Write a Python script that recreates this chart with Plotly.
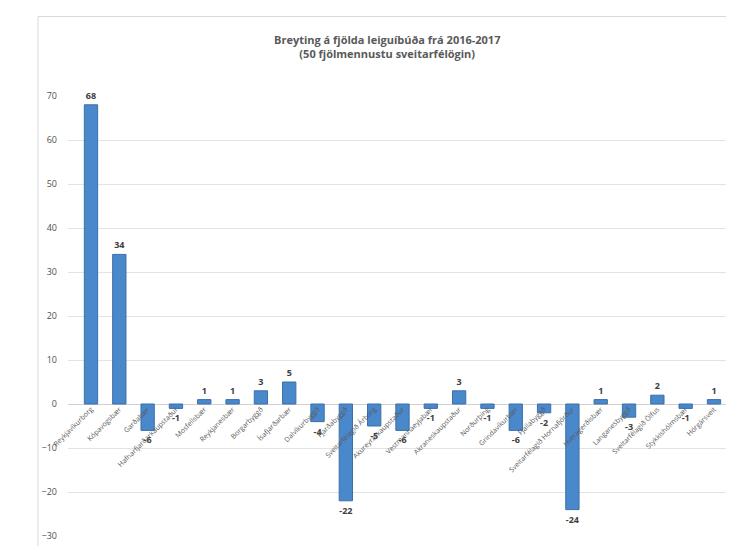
import plotly.graph_objects as go

categories = [
    "Reykjavíkurborg", "Kópavogsbær", "Garðabær", "Hafnarfjarðarkaupstaður",
    "Mosfellsbær", "Reykjanesbær", "Borgarbyggð", "Ísafjarðarbær",
    "Dalvíkurbyggð", "Fjarðabyggð", "Sveitarfélagið Árborg", "Akureyrarkaupstaður",
    "Vestmannaeyjabær", "Akraneskaupstaður", "Norðurþing", "Grindavíkurbær",
    "Fjallabyggð", "Sveitarfélagið Hornafjörður", "Hveragerðisbær", "Langanesbyggð",
    "Sveitarfélagið Ölfus", "Stykkishólmsbær", "Hörgársveit",
]
values = [68, 34, -6, -1, 1, 1, 3, 5, -4, -22, -5, -6, -1, 3, -1, -6, -2, -24, 1, -3, 2, -1, 1]
y_ticks = [-30, -20, -10, 0, 10, 20, 30, 40, 50, 60, 70]
title_text = "Breyting á fjölda leiguíbúða frá 2016-2017<br>(50 fjölmennustu sveitarfélögin)"

# pixel geometry helpers
W, H = 734, 546
L, R, T, B = 60, 721, 88, 531
pw, ph = R - L, B - T

def px(x):
    return (x - L) / pw

def py(y):
    return (B - y) / ph

fig = go.Figure(go.Bar(
    x=list(range(len(categories))),
    y=values,
    text=["<b>" + str(v) + "</b>" for v in values],
    textposition="outside",
    textfont=dict(size=9, color="#404040", family="Open Sans"),
    cliponaxis=False,
    marker=dict(color="#4a88cc", line=dict(color="#3a6fa8", width=1)),
    width=0.47,
))

fig.update_layout(
    width=W, height=H,
    margin=dict(l=L, r=W - R, t=T, b=H - B),
    paper_bgcolor="white", plot_bgcolor="white",
    showlegend=False,
    font=dict(family="Open Sans", color="#595959"),
    xaxis=dict(
        tickmode="array",
        tickvals=list(range(len(categories))),
        ticktext=categories,
        tickangle=-45,
        tickfont=dict(size=7, color="#595959"),
        range=[-0.812, 22.53],
        anchor="free",
        position=py(397),
        showgrid=False,
        showline=False,
        ticks="",
        zeroline=False,
    ),
    yaxis=dict(
        range=[-30, 70],
        tickvals=y_ticks,
        tickfont=dict(size=9, color="#505050"),
        showgrid=True,
        gridcolor="#e3e3e3",
        gridwidth=1,
        zeroline=True,
        zerolinecolor="#d0d0d0",
        zerolinewidth=1,
        showline=False,
        ticks="",
        ticklabelstandoff=10,
    ),
    annotations=[dict(
        text="<b>" + title_text + "</b>",
        xref="paper", yref="paper",
        x=px(379), y=py(38),
        xanchor="center", yanchor="middle",
        showarrow=False,
        font=dict(size=11, color="#595959", family="Open Sans"),
    )],
    shapes=[dict(
        type="rect", xref="paper", yref="paper",
        x0=px(30), x1=px(733), y0=py(544), y1=py(8),
        line=dict(color="#d9d9d9", width=1),
        layer="below",
    )],
)

fig.write_html("out.html")
